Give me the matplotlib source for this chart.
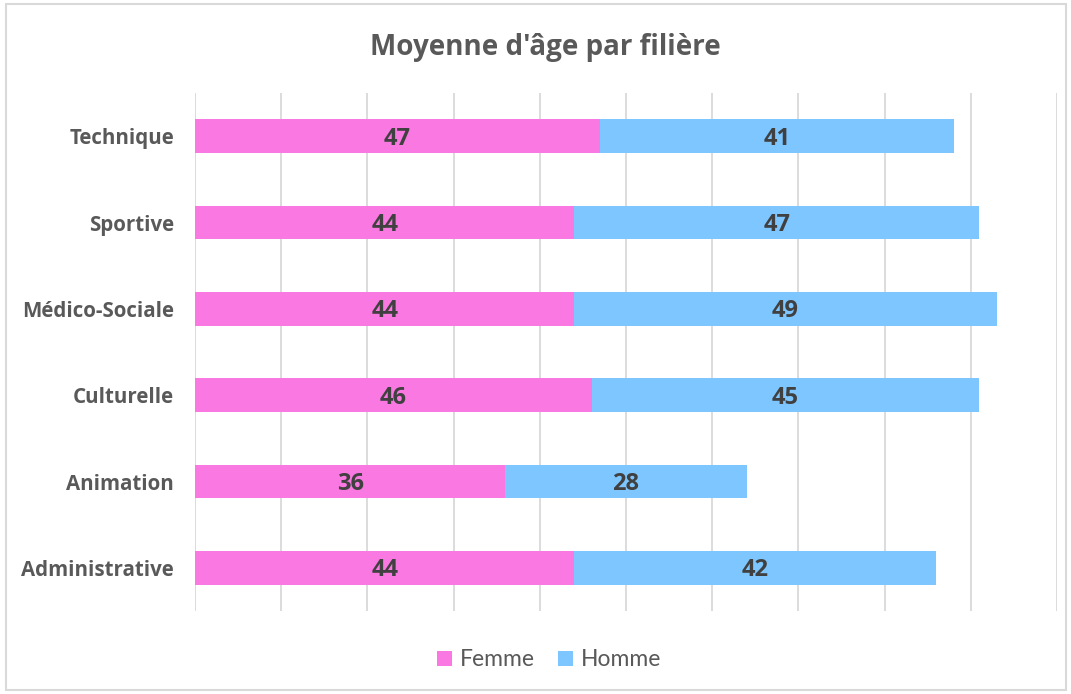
import matplotlib
matplotlib.use("Agg")
import matplotlib.pyplot as plt
from matplotlib.patches import Rectangle
from matplotlib.transforms import ScaledTranslation

categories = ["Administrative", "Animation", "Culturelle", "Médico-Sociale", "Sportive", "Technique"]
femme = [44, 36, 46, 44, 44, 47]
homme = [42, 28, 45, 49, 47, 41]
series_names = ["Femme", "Homme"]
colors = ["#FA78E1", "#7DC6FF"]
title = "Moyenne d'âge par filière"

fig = plt.figure(figsize=(10.71, 6.94), dpi=100)
ax = fig.add_axes([195/1071, 1-611/694, (1057-195)/1071, (611-93)/694])

y = list(range(len(categories)))
h = 0.39
b1 = ax.barh(y, femme, height=h, color=colors[0], label=series_names[0], zorder=2)
b2 = ax.barh(y, homme, left=femme, height=h, color=colors[1], label=series_names[1], zorder=2)

shift = ax.transData + ScaledTranslation(0, -2.5/100, fig.dpi_scale_trans)
for bars in (b1, b2):
    for b in bars:
        ax.text(b.get_x() + b.get_width()/2, b.get_y() + b.get_height()/2, str(int(b.get_width())),
                ha="center", va="center", fontsize=17, fontweight="bold", color="#404040",
                family="Open Sans", transform=shift, zorder=3)

ax.set_xlim(0, 100)
ax.set_ylim(-0.5, len(categories) - 0.5)
ax.set_xticks(range(0, 101, 10))
ax.set_xticklabels([])
ax.tick_params(axis="x", length=0)
ax.grid(axis="x", color="#D9D9D9", linewidth=1.3, zorder=0)
ax.set_yticks(y)
ax.set_yticklabels(categories, fontsize=14.8, fontweight="bold", color="#595959", family="Open Sans")
ax.tick_params(axis="y", length=0, pad=15)
for s in ax.spines.values():
    s.set_visible(False)

fig.text(545/1071, 1-48/694, title, ha="center", va="center", fontsize=20,
         fontweight="bold", color="#595959", family="Open Sans")

leg = fig.legend(handles=[b1, b2], labels=series_names, loc="center", bbox_to_anchor=(549/1071, 1-660/694),
                 ncol=2, frameon=False, handlelength=0.65, handleheight=0.65,
                 handletextpad=0.35, columnspacing=1.0, prop={"family": "Lato", "size": 16.5})
for t in leg.get_texts():
    t.set_color("#595959")

fig.patches.append(Rectangle((6/1071, 1-690/694), (1066-6)/1071, (690-4)/694, transform=fig.transFigure,
                             fill=False, edgecolor="#D9D9D9", linewidth=1.5))

fig.savefig("out.png", dpi=100)
